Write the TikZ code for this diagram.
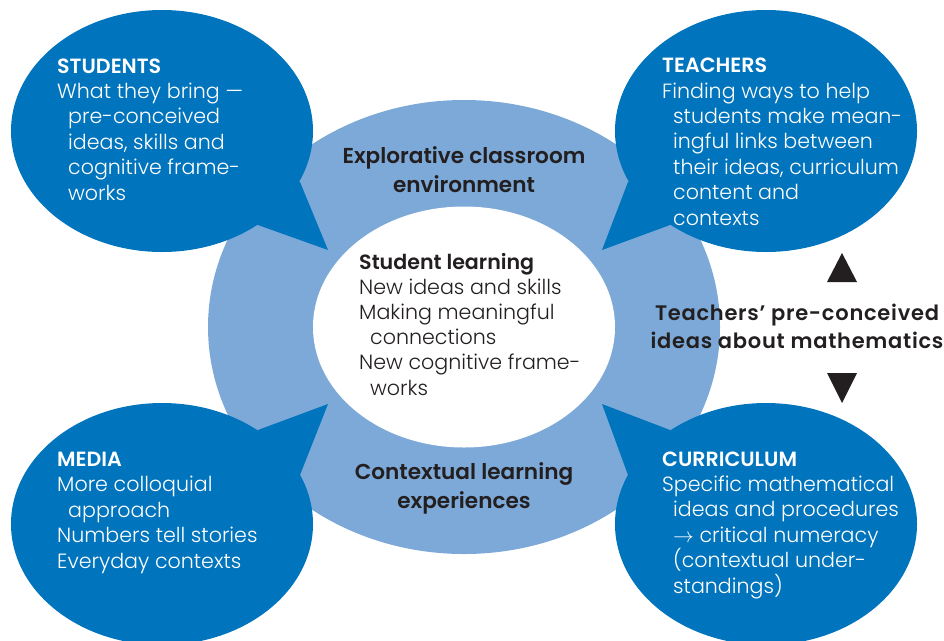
\documentclass[tikz,border=0pt]{standalone}
\usepackage{fontspec}
\usetikzlibrary{shapes.geometric}
\IfFontExistsTF{Poppins Light}
  {\newfontfamily\bodyfont{Poppins Light}}
  {\newfontfamily\bodyfont{Poppins}}
\IfFontExistsTF{Poppins SemiBold}
  {\newfontfamily\headfont{Poppins SemiBold}}
  {\newfontfamily\headfont{Poppins}[UprightFont=*,UprightFeatures={FakeBold=1.5}]}
\definecolor{dblue}{RGB}{0,116,188}
\definecolor{lblue}{RGB}{124,169,216}
\definecolor{ink}{RGB}{35,31,32}
\begin{document}
\begin{tikzpicture}[x=1pt,y=-1pt,
  bubble/.style={ellipse,fill=dblue,draw=none,inner sep=0pt,
    minimum width=302pt,minimum height=242pt},
  bubtext/.style={anchor=base west,align=left,inner sep=0pt,text=white,
    font=\bodyfont\fontsize{20.6}{25.4}\selectfont},
  labeltext/.style={anchor=base,align=center,inner sep=0pt,text=ink,
    font=\headfont\fontsize{21.6}{28.5}\selectfont},
  innertext/.style={anchor=base west,align=left,inner sep=0pt,text=ink,
    font=\bodyfont\fontsize{20.6}{25.2}\selectfont}]
\useasboundingbox (0,0) rectangle (944,640);

% classroom ring and the student-learning core
\node[ellipse,fill=lblue,inner sep=0pt,minimum width=512pt,minimum height=454pt] (ring) at (464,327) {};
\node[ellipse,fill=white,inner sep=0pt,minimum width=302pt,minimum height=241pt] (core) at (464,327) {};

% speech bubbles
\node[bubble] (students) at (162,131) {};
\node[bubble] (teachers) at (766,131) {};
\node[bubble] (media) at (162,524) {};
\node[bubble] (curric) at (766,524) {};

\coordinate (stip) at (328,250);
\coordinate (ttip) at (602,250);
\coordinate (mtip) at (328,404);
\coordinate (ctip) at (602,404);
\fill[dblue] (students.center) -- (300,182) -- (stip) -- (258,225) -- cycle;
\fill[dblue] (teachers.center) -- (628,182) -- (ttip) -- (670,225) -- cycle;
\fill[dblue] (media.center) -- (300,475) -- (mtip) -- (258,430) -- cycle;
\fill[dblue] (curric.center) -- (628,475) -- (ctip) -- (670,430) -- cycle;

% bubble texts (each node sits on the baseline of its last line)
\node[bubtext] (studentsT) at (57,200) {{\headfont STUDENTS}\\
  What they bring —\\
  \hspace*{11pt}pre-conceived\\
  \hspace*{11pt}ideas, skills and\\
  \hspace*{11pt}cognitive frame-\\
  \hspace*{11pt}works};
\node[bubtext] (teachersT) at (662,225) {{\headfont TEACHERS}\\
  Finding ways to help\\
  \hspace*{11pt}students make mean-\\
  \hspace*{11pt}ingful links between\\
  \hspace*{11pt}their ideas, curriculum\\
  \hspace*{11pt}content and\\
  \hspace*{11pt}contexts};
\node[bubtext] (mediaT) at (57,568) {{\headfont MEDIA}\\
  More colloquial\\
  \hspace*{11pt}approach\\
  Numbers tell stories\\
  Everyday contexts};
\node[bubtext] (curricT) at (662,593) {{\headfont CURRICULUM}\\
  Specific mathematical\\
  \hspace*{11pt}ideas and procedures\\
  \hspace*{11pt}$\rightarrow$ critical numeracy\\
  \hspace*{11pt}(contextual under-\\
  \hspace*{11pt}standings)};

% ring labels
\node[labeltext] (explore) at (464,192) {Explorative classroom\\environment};
\node[labeltext] (context) at (464,508) {Contextual learning\\experiences};

% core text
\node[innertext] (learning) at (359,395) {{\headfont Student learning}\\
  New ideas and skills\\
  Making meaningful\\
  \hspace*{11pt}connections\\
  New cognitive frame-\\
  \hspace*{11pt}works};

% teachers' ideas between the right-hand bubbles
\node[labeltext,font=\headfont\fontsize{21}{28}\selectfont\addfontfeature{LetterSpace=3.5}] (tideas) at (797,348)
  {Teachers’ pre-conceived\\ideas about mathematics};
\fill[ink] (827,282) -- (857,282) -- (842,253) -- cycle;
\fill[ink] (827,373) -- (857,373) -- (842,403) -- cycle;
\end{tikzpicture}
\end{document}
